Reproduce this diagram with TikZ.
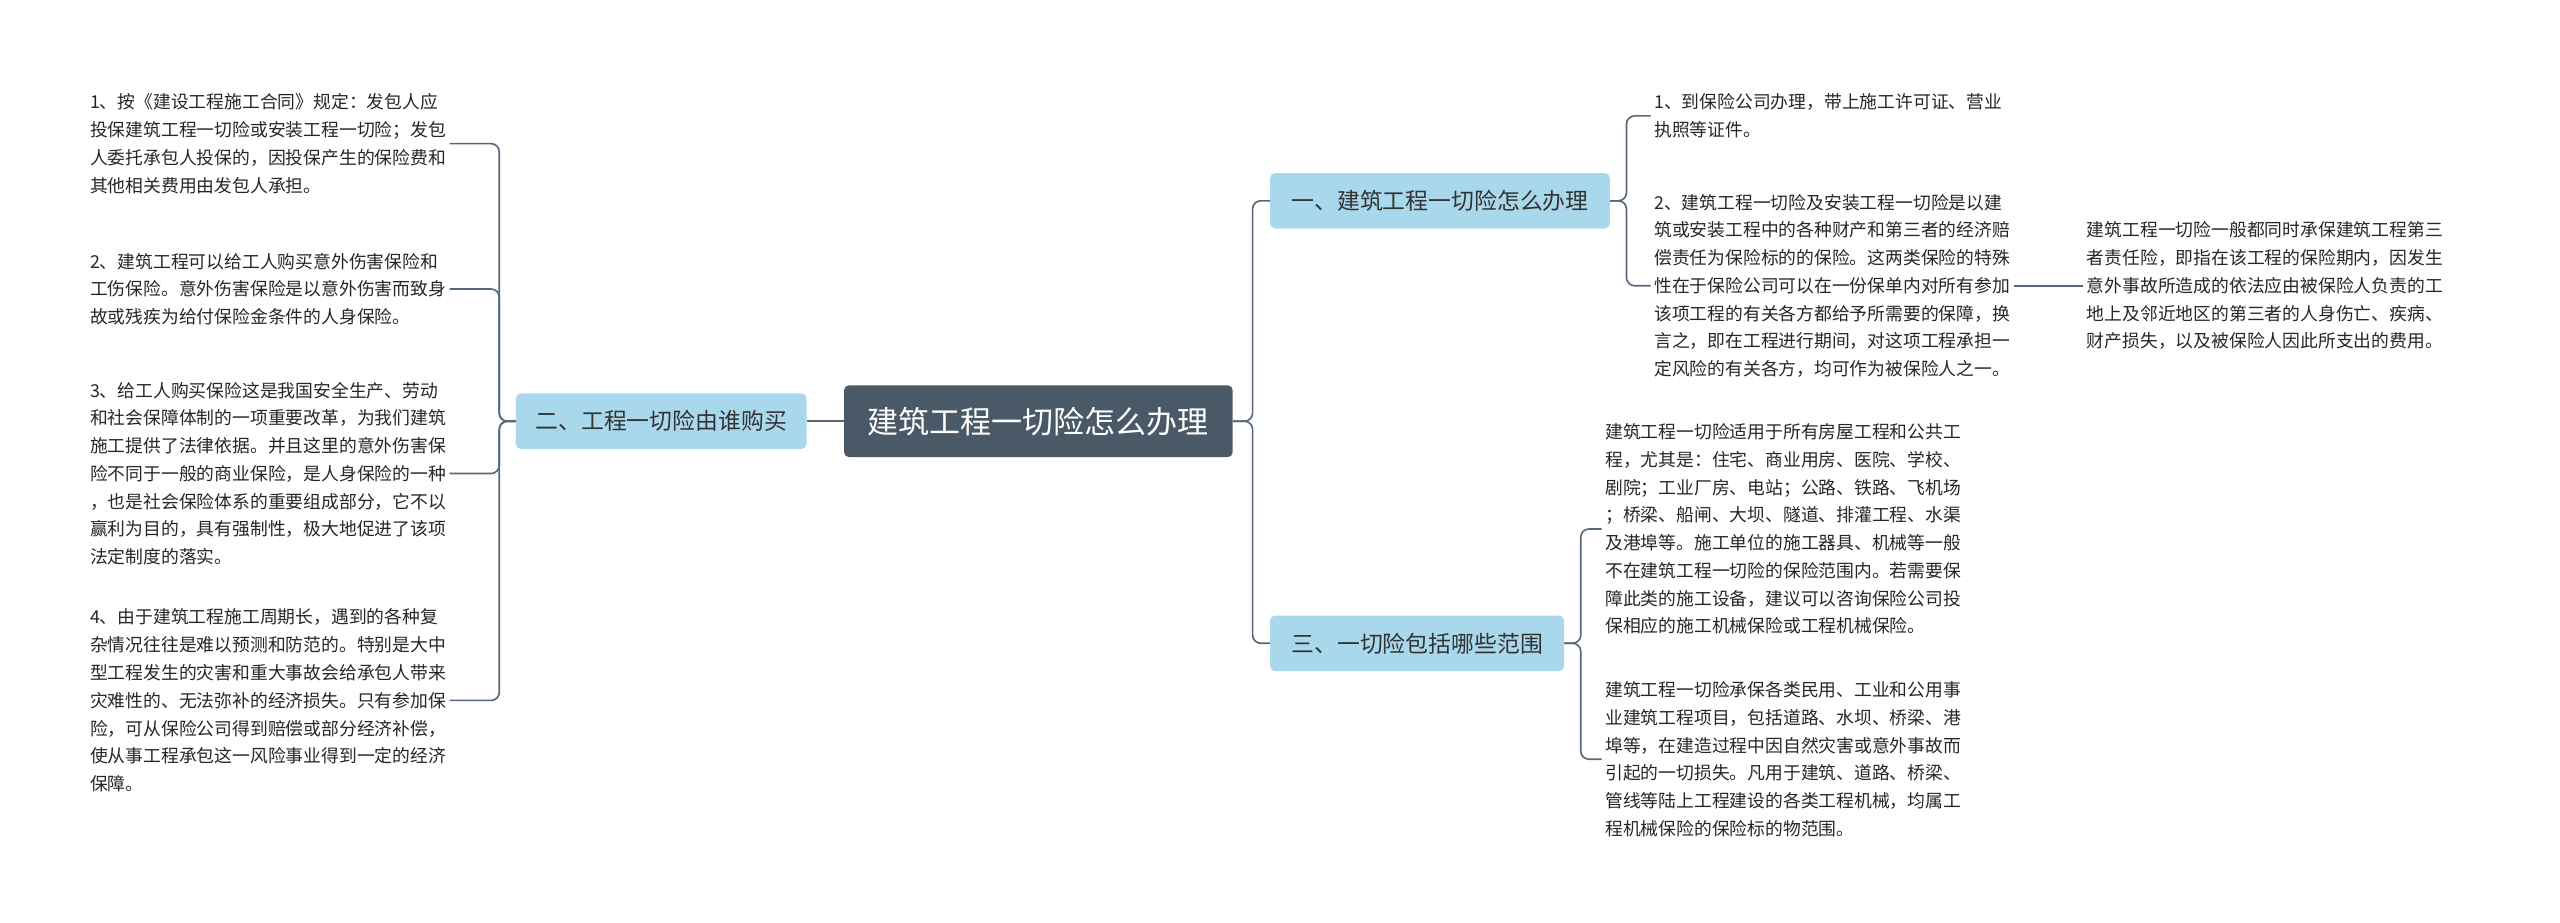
\documentclass[tikz,border=0pt]{standalone}
\usepackage{fontspec}
\setmainfont{Noto Sans CJK SC}
\begin{document}
\begin{tikzpicture}[x=1pt,y=-1pt,
 leaf/.style={inner sep=2pt,align=left,font=\fontsize{10.9}{17}\selectfont,text=black!85},
 branch/.style={fill=cbl,rounded corners=3pt,inner sep=0pt,minimum height=34pt,font=\fontsize{14}{16}\selectfont,text=black!80},
 conn/.style={draw=lc,line width=1pt,rounded corners=5pt}]
\definecolor{cbl}{HTML}{A9D8EC}
\definecolor{lc}{HTML}{56687A}
\definecolor{cen}{HTML}{4A5968}
\useasboundingbox (0,0) rectangle (1568,565);
\node[fill=cen,rounded corners=3pt,minimum width=238pt,minimum height=44pt,text=white,font=\fontsize{19}{21}\selectfont] (c) at (636,258) {建筑工程一切险怎么办理};
\node[branch,minimum width=178pt] (L) at (405,258) {二、工程一切险由谁购买};
\node[branch,minimum width=208pt] (R1) at (882,123) {一、建筑工程一切险怎么办理};
\node[branch,minimum width=180pt] (R3) at (868,394) {三、一切险包括哪些范围};
\node[leaf,anchor=west] (l1) at (53,88) {1、按《建设工程施工合同》规定：发包人应\\投保建筑工程一切险或安装工程一切险；发包\\人委托承包人投保的，因投保产生的保险费和\\其他相关费用由发包人承担。};
\node[leaf,anchor=west] (l2) at (53,177) {2、建筑工程可以给工人购买意外伤害保险和\\工伤保险。意外伤害保险是以意外伤害而致身\\故或残疾为给付保险金条件的人身保险。};
\node[leaf,anchor=west] (l3) at (53,290) {3、给工人购买保险这是我国安全生产、劳动\\和社会保障体制的一项重要改革，为我们建筑\\施工提供了法律依据。并且这里的意外伤害保\\险不同于一般的商业保险，是人身保险的一种\\，也是社会保险体系的重要组成部分，它不以\\赢利为目的，具有强制性，极大地促进了该项\\法定制度的落实。};
\node[leaf,anchor=west] (l4) at (53,429) {4、由于建筑工程施工周期长，遇到的各种复\\杂情况往往是难以预测和防范的。特别是大中\\型工程发生的灾害和重大事故会给承包人带来\\灾难性的、无法弥补的经济损失。只有参加保\\险，可从保险公司得到赔偿或部分经济补偿，\\使从事工程承包这一风险事业得到一定的经济\\保障。};
\node[leaf,anchor=west] (a) at (1011,71) {1、到保险公司办理，带上施工许可证、营业\\执照等证件。};
\node[leaf,anchor=west] (b) at (1011,175) {2、建筑工程一切险及安装工程一切险是以建\\筑或安装工程中的各种财产和第三者的经济赔\\偿责任为保险标的的保险。这两类保险的特殊\\性在于保险公司可以在一份保单内对所有参加\\该项工程的有关各方都给予所需要的保障，换\\言之，即在工程进行期间，对这项工程承担一\\定风险的有关各方，均可作为被保险人之一。};
\node[leaf,anchor=west] (s) at (1276,175) {建筑工程一切险一般都同时承保建筑工程第三\\者责任险，即指在该工程的保险期内，因发生\\意外事故所造成的依法应由被保险人负责的工\\地上及邻近地区的第三者的人身伤亡、疾病、\\财产损失，以及被保险人因此所支出的费用。};
\node[leaf,anchor=west] (cc) at (981,324) {建筑工程一切险适用于所有房屋工程和公共工\\程，尤其是：住宅、商业用房、医院、学校、\\剧院；工业厂房、电站；公路、铁路、飞机场\\；桥梁、船闸、大坝、隧道、排灌工程、水渠\\及港埠等。施工单位的施工器具、机械等一般\\不在建筑工程一切险的保险范围内。若需要保\\障此类的施工设备，建议可以咨询保险公司投\\保相应的施工机械保险或工程机械保险。};
\node[leaf,anchor=west] (d) at (981,465) {建筑工程一切险承保各类民用、工业和公用事\\业建筑工程项目，包括道路、水坝、桥梁、港\\埠等，在建造过程中因自然灾害或意外事故而\\引起的一切损失。凡用于建筑、道路、桥梁、\\管线等陆上工程建设的各类工程机械，均属工\\程机械保险的保险标的物范围。};
\draw[conn] (c.west) -- (L.east);
\foreach \n in {R1,R3} \draw[conn] (c.east) -- ++(12,0) |- (\n.west);
\foreach \n in {l1,l2,l3,l4} \draw[conn] (L.west) -- ++(-10,0) |- (\n.east);
\foreach \n in {a,b} \draw[conn] (R1.east) -- ++(10,0) |- (\n.west);
\foreach \n in {cc,d} \draw[conn] (R3.east) -- ++(10,0) |- (\n.west);
\draw[conn] (b.east) -- (s.west);
\end{tikzpicture}
\end{document}
